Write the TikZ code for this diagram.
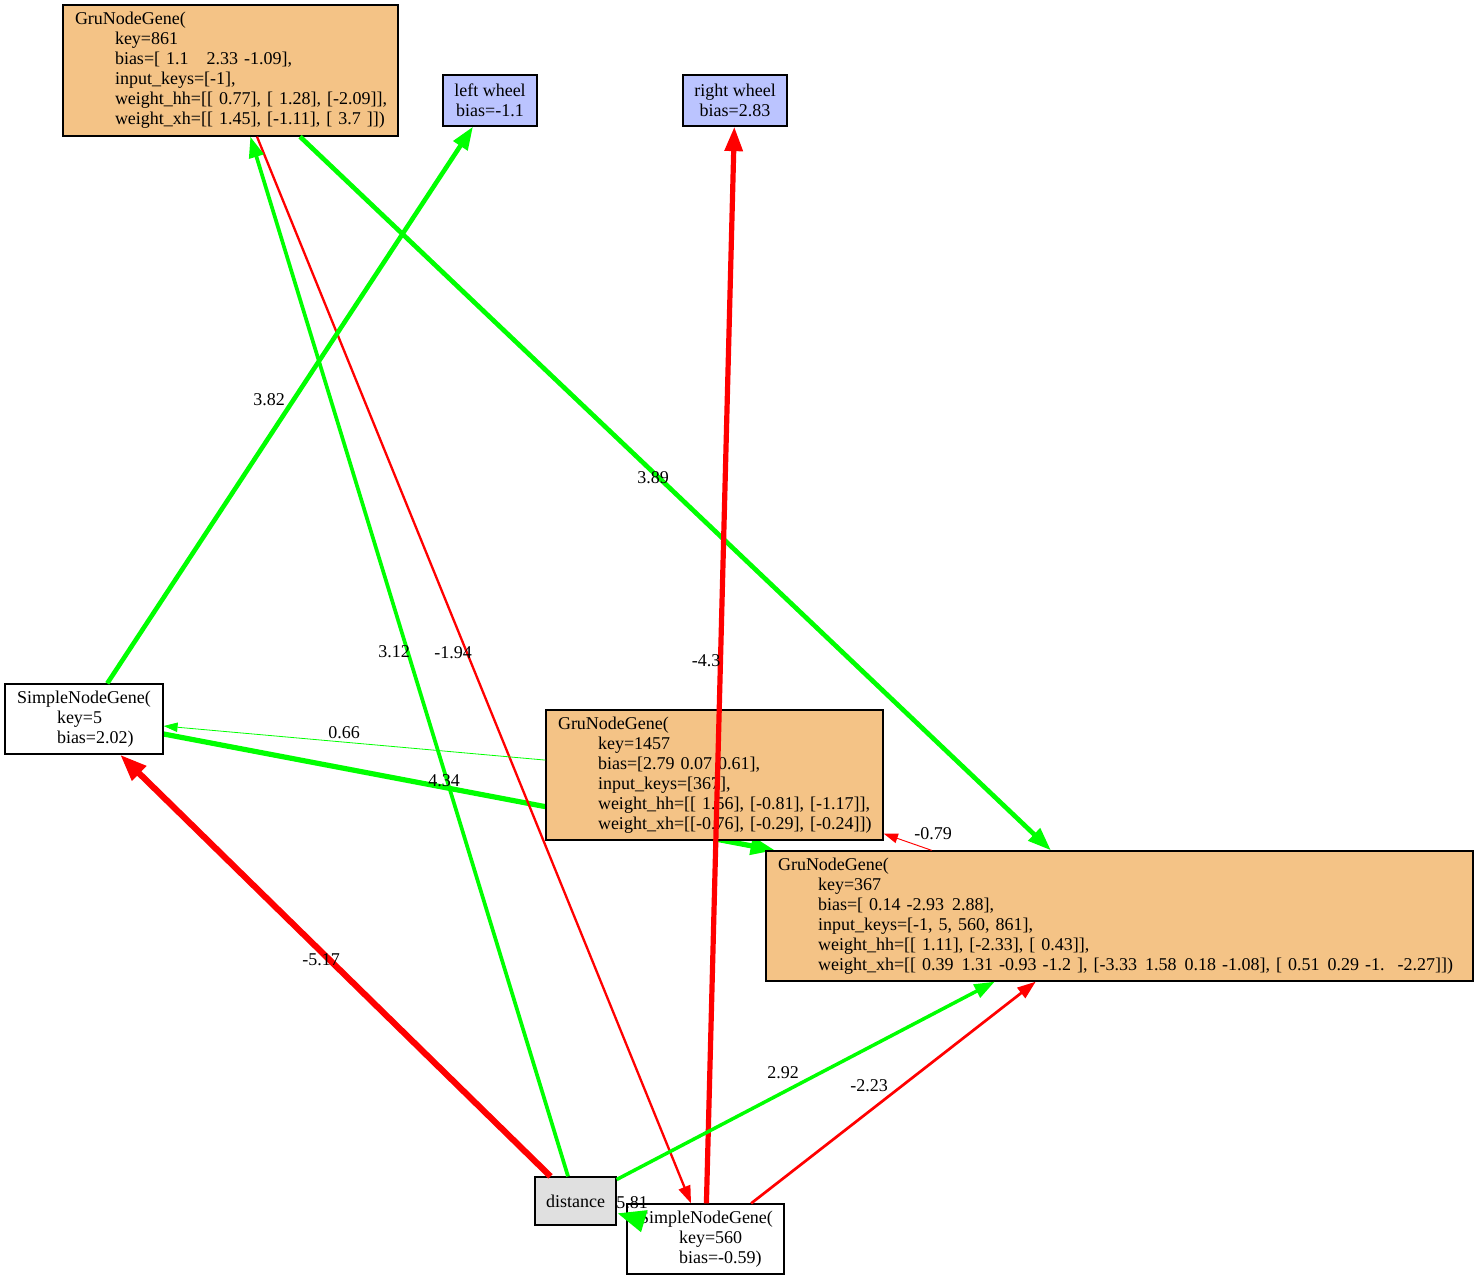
\documentclass[tikz,border=0pt]{standalone}
\usepackage{fontspec}
\setmainfont{Liberation Serif}
\usetikzlibrary{arrows.meta}
\pgfdeclarelayer{bg}
\pgfdeclarelayer{paper}
\pgfsetlayers{paper,bg,main}
\definecolor{gruorange}{RGB}{244,195,134}
\definecolor{outblue}{RGB}{187,196,255}
\definecolor{ingray}{RGB}{224,224,224}
\definecolor{eg}{RGB}{0,255,0}
\definecolor{er}{RGB}{255,0,0}
\newcommand\gl[1]{\\\hspace*{40pt}\mbox{#1}}
\newcommand\xs{\hspace{2pt}}
\begin{document}
\begin{tikzpicture}[x=1pt,y=-1pt,
  every node/.style={font=\fontsize{18}{20}\selectfont},
  gene/.style={draw=black, line width=1.3pt, inner xsep=12pt, inner ysep=0pt, align=left},
  gru/.style={gene, fill=gruorange, minimum height=131pt},
  simple/.style={gene, fill=white, minimum height=70pt},
  io/.style={draw=black, line width=1.3pt, inner sep=0pt, align=center, minimum height=51pt},
  lab/.style={inner sep=0pt},
  wt/.style={line width=#1, -{Triangle[length=12pt 2.4, width=8pt 1.8]}},
  ge/.style={draw=eg, wt=#1},
  re/.style={draw=er, wt=#1},
]
\useasboundingbox (0,0) rectangle (1479,1280);
\begin{pgfonlayer}{paper}
\fill[white] (0,0) rectangle (1479,1280);
\end{pgfonlayer}

\node[gru, text width=311pt] (n861) at (230.5,70.5) {GruNodeGene(\gl{key=861}\gl{bias=[ 1.1~~ 2.33 -1.09],}\gl{input\_keys=[-1],}\gl{weight\_hh=[[ 0.77], [ 1.28], [-2.09]],}\gl{weight\_xh=[[ 1.45], [-1.11], [ 3.7 ]])}};
\node[io, fill=outblue, minimum width=94pt] (lw) at (490,100.5) {left wheel\\bias=-1.1};
\node[io, fill=outblue, minimum width=104pt] (rw) at (735,100.5) {right wheel\\bias=2.83};
\node[simple, text width=134pt] (n5) at (84,719) {SimpleNodeGene(\gl{key=5}\gl{bias=2.02)}};
\node[gru, text width=313pt, minimum height=130pt] (n1457) at (714.5,775) {GruNodeGene(\gl{key=1457}\gl{bias=[2.79 0.07 0.61],}\gl{input\_keys=[367],}\gl{weight\_hh=[[ 1.56], [-0.81], [-1.17]],}\gl{weight\_xh=[[-0.76], [-0.29], [-0.24]])}};
\node[gru, text width=683pt, minimum height=130pt] (n367) at (1119.5,916) {GruNodeGene(\gl{key=367}\gl{bias=[ 0.14 -2.93\xs{} 2.88],}\gl{input\_keys=[-1, 5, 560, 861],}\gl{weight\_hh=[[ 1.11], [-2.33], [ 0.43]],}\gl{weight\_xh=[[ 0.39\xs{} 1.31 -0.93 -1.2 ], [-3.33\xs{} 1.58\xs{} 0.18 -1.08], [ 0.51\xs{} 0.29 -1.\xs\xs{} -2.27]])}};
\node[io, fill=ingray, minimum width=81pt, minimum height=48pt] (dist) at (575.5,1201) {distance};
\node[simple, text width=133pt] (n560) at (705.5,1239) {SimpleNodeGene(\gl{key=560}\gl{bias=-0.59)}};

\begin{pgfonlayer}{bg}
\draw[ge=5.2pt] (n5) -- (n367);
\end{pgfonlayer}

\draw[ge=4.7pt] (n861) -- (n367);
\draw[re=2.3pt] (n861) -- (n560);
\draw[ge=3.7pt] (dist) -- (n861);
\draw[ge=4.6pt] (n5) -- (lw);
\draw[re=5.2pt] (n560) -- (rw);
\draw[ge=0.8pt] (n1457) -- (n5);
\draw[re=0.95pt] (n367) -- (n1457);
\draw[re=6.2pt] (dist) -- (n5);
\draw[ge=3.5pt] (dist) -- (n367);
\draw[re=2.7pt] (n560) -- (n367);
\draw[ge=7pt] (n560) -- (dist);

\node[lab] (lA) at (653,478) {3.89};
\node[lab] (lB) at (453,653) {-1.94};
\node[lab] (lC) at (394,652) {3.12};
\node[lab] (lD) at (269,400) {3.82};
\node[lab] (lE) at (706,661) {-4.3};
\node[lab] (lF) at (344,733) {0.66};
\node[lab] (lG) at (444,781) {4.34};
\node[lab] (lH) at (933,834) {-0.79};
\node[lab] (lI) at (321,960) {-5.17};
\node[lab] (lJ) at (783,1073) {2.92};
\node[lab] (lK) at (869,1086) {-2.23};
\node[lab] (lL) at (632,1203) {5.81};
\end{tikzpicture}
\end{document}
